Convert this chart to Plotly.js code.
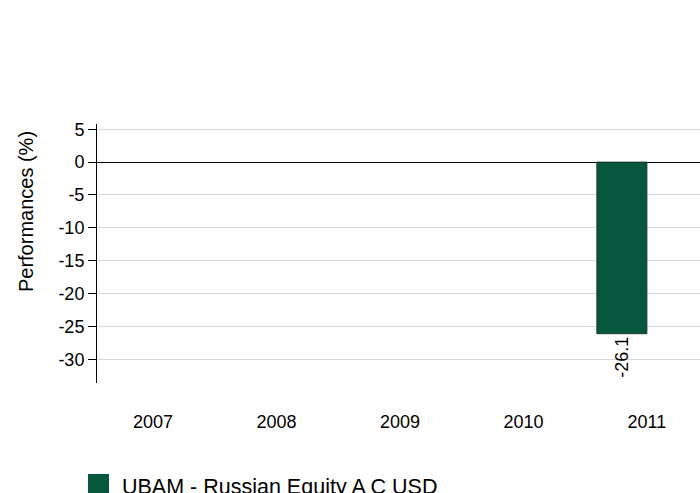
<!DOCTYPE html>
<html>
<head>
<meta charset="utf-8">
<script src="https://cdn.plot.ly/plotly-3.0.1.min.js"></script>
<style>html,body{margin:0;padding:0;background:#fff;}#chart{width:700px;height:493px;}</style>
</head>
<body>
<div id="chart"></div>
<script>
const years = ['2007', '2008', '2009', '2010', '2011'];
const fundValues = [null, null, null, null, -26.1];
const fundLabels = ['', '', '', '', '-26.1'];
const seriesName = 'UBAM - Russian Equity A C USD';
const yTicks = [5, 0, -5, -10, -15, -20, -25, -30];
const yTitle = 'Performances (%)';

const green = '#04573d';
const font = 'Liberation Sans, Arial, sans-serif';

const trace = {
  type: 'bar',
  x: years,
  y: fundValues,
  text: fundLabels,
  texttemplate: '%{text}',
  textposition: 'outside',
  textangle: -90,
  textfont: {family: font, size: 18, color: '#000'},
  cliponaxis: false,
  width: 0.405,
  offset: -0.405,
  marker: {color: green, line: {color: '#1e3b2f', width: 1}},
  name: seriesName,
  showlegend: false,
  hoverinfo: 'skip'
};

const layout = {
  width: 700,
  height: 493,
  margin: {l: 97, r: 0, t: 124, b: 110},
  paper_bgcolor: '#fff',
  plot_bgcolor: '#fff',
  font: {family: font, size: 18, color: '#000'},
  showlegend: false,
  xaxis: {
    type: 'category',
    range: [-0.453, 4.43],
    showgrid: false,
    zeroline: false,
    showline: false,
    ticks: 'outside',
    ticklen: 22,
    tickcolor: 'rgba(0,0,0,0)',
    tickfont: {family: font, size: 18, color: '#000'},
    fixedrange: true
  },
  yaxis: {
    range: [-33.6, 5.8],
    tickvals: yTicks,
    ticktext: yTicks.map(String),
    showgrid: true,
    gridcolor: '#d9d9d9',
    gridwidth: 1,
    zeroline: true,
    zerolinecolor: '#000',
    zerolinewidth: 1,
    showline: true,
    linecolor: '#000',
    linewidth: 1,
    ticks: 'outside',
    ticklen: 8,
    tickcolor: '#000',
    tickfont: {family: font, size: 18, color: '#000'},
    fixedrange: true
  },
  shapes: [{
    type: 'rect', xref: 'paper', yref: 'paper',
    xsizemode: 'pixel', ysizemode: 'pixel',
    xanchor: 0, yanchor: 0,
    x0: -9, x1: 12, y0: -91, y1: -114,
    fillcolor: green, line: {color: green, width: 0}
  }],
  annotations: [{
    xref: 'paper', yref: 'paper',
    x: 0.038, y: -0.3475,
    xanchor: 'left', yanchor: 'top',
    text: seriesName,
    showarrow: false,
    font: {family: font, size: 21.5, color: '#000'}
  }, {
    xref: 'paper', yref: 'paper',
    x: -0.1177, y: 0.66,
    xanchor: 'center', yanchor: 'middle',
    textangle: -90,
    text: yTitle,
    showarrow: false,
    font: {family: font, size: 20, color: '#000'}
  }]
};

Plotly.newPlot('chart', [trace], layout, {displayModeBar: false, staticPlot: true});
</script>
</body>
</html>
